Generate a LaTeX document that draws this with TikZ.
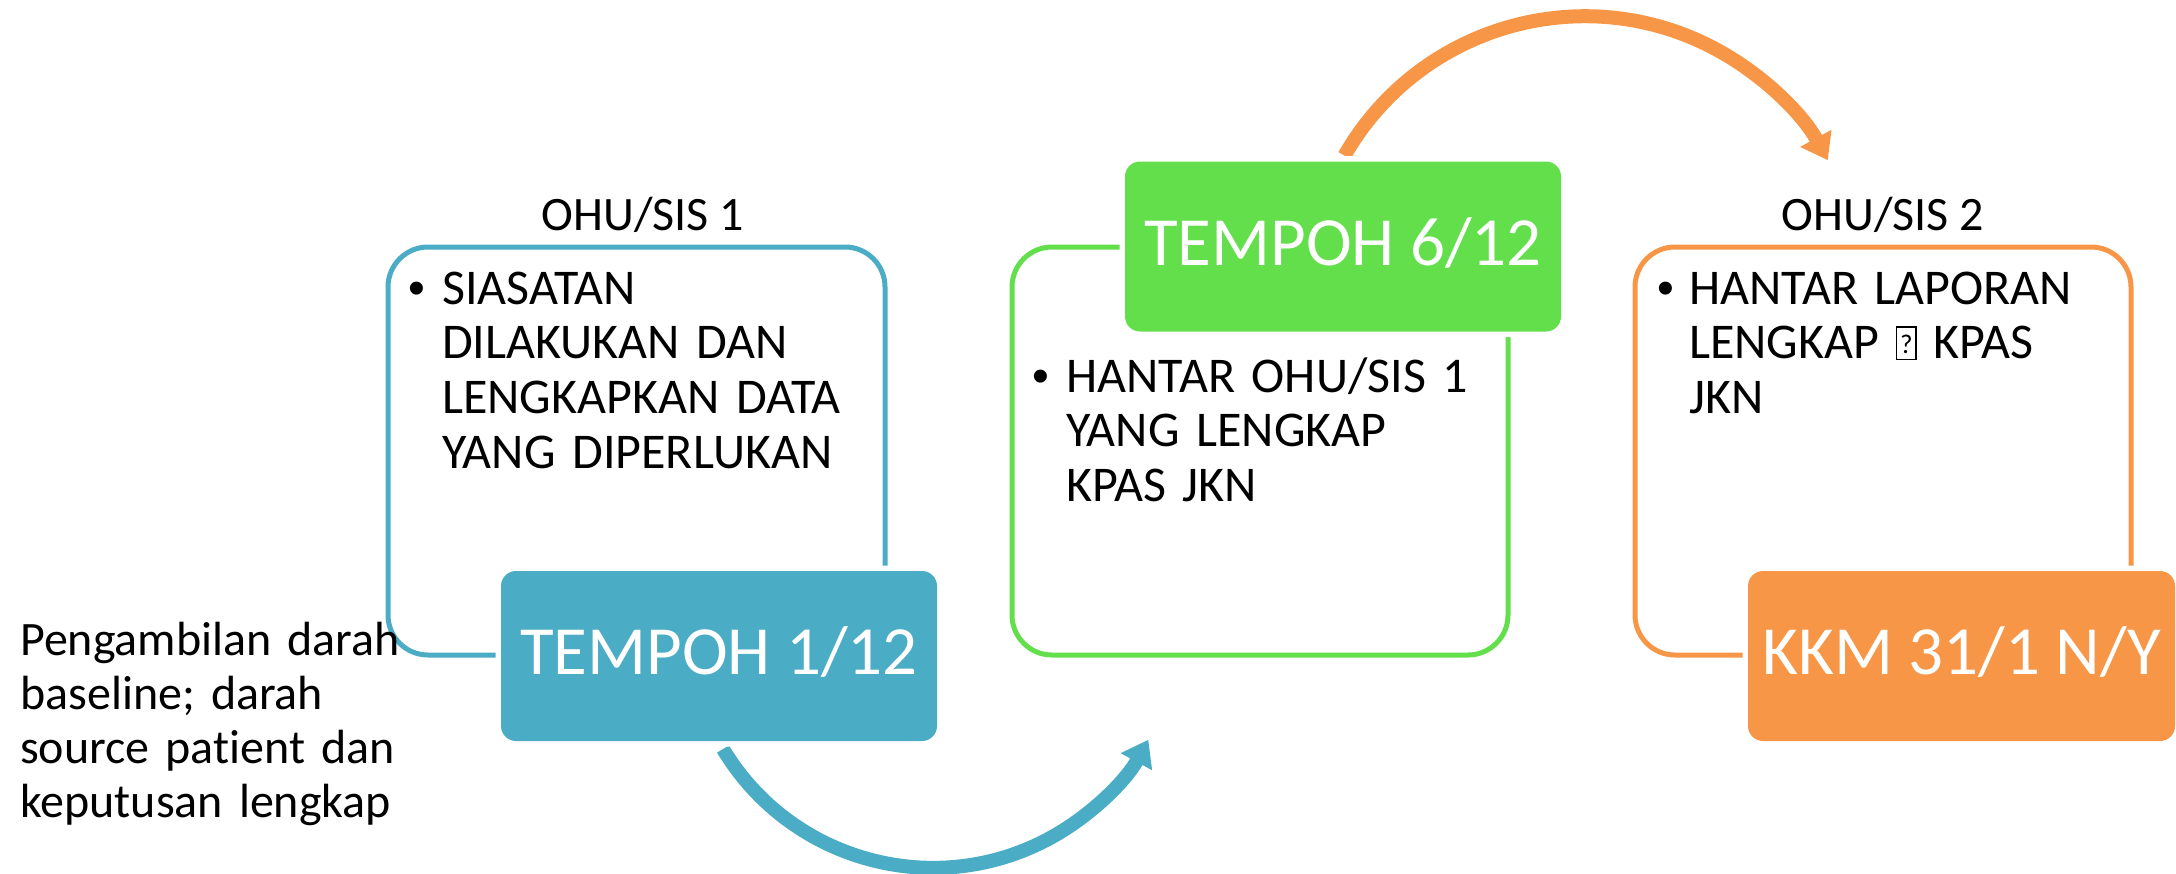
\documentclass[tikz,border=0pt]{standalone}
\usepackage{fontspec}
\setmainfont{Carlito}[Ligatures=NoCommon]
\newfontfamily\bulfont{Liberation Sans}
\usetikzlibrary{arrows.meta}
\definecolor{cblue}{HTML}{4BACC6}
\definecolor{cgreen}{HTML}{62DF4A}
\definecolor{corange}{HTML}{F79646}
\newcommand{\tofubox}{{\setlength{\fboxsep}{0pt}\setlength{\fboxrule}{1.6pt}\fbox{\makebox[18pt]{\rule{0pt}{31pt}\raisebox{5pt}{\fontsize{27}{27}\selectfont ?}}}}}
\begin{document}
\begin{tikzpicture}[x=1pt,y=-1pt,
  outlinebox/.style={draw=#1, line width=5pt, rounded corners=40pt, minimum width=497pt, minimum height=408pt, inner sep=0pt, outer sep=0pt},
  fillbox/.style={fill=#1, preaction={draw=white, line width=11pt}, rounded corners=15pt, minimum width=436pt, minimum height=170pt, inner sep=0pt, outer sep=0pt, text=white, font=\fontsize{69}{69}\selectfont, text height=44.5pt, text depth=7.5pt},
  txt/.style={anchor=base west, text width=440pt, align=left, inner sep=0pt, font=\fontsize{50}{54.7}\selectfont},
  bul/.style={anchor=base, inner sep=0pt, font=\bulfont\fontsize{48}{48}\selectfont},
  lbl/.style={anchor=base, inner sep=0pt, font=\fontsize{48}{48}\selectfont},
  arc arrow/.style={draw=#1, line width=14pt, -{Triangle[length=25pt,width=34pt]}}
]
\useasboundingbox (0,0) rectangle (2176,873);

% arrows
\coordinate (bstart) at (723,749);
\draw[arc arrow=cblue] (bstart) arc[start angle=149, end angle=28.5, radius=245];
\coordinate (ostart) at (1344.5,155.6);
\draw[arc arrow=corange] (ostart) arc[start angle=-150.2, end angle=-28.7, radius=277];

% outline boxes
\node[outlinebox=cblue] (box1) at (636.5,451) {};
\node[outlinebox=cgreen, minimum width=496pt] (box2) at (1260,451) {};
\node[outlinebox=corange, minimum width=496pt] (box3) at (1883,451) {};

% filled boxes
\node[fillbox=cblue] (t1) at (719,656) {TEMPOH 1/12};
\node[fillbox=cgreen] (t2) at (1343,246.5) {TEMPOH 6/12};
\node[fillbox=corange, minimum width=427pt] (t3) at (1961.5,656) {KKM 31/1 N/Y};

% labels
\node[lbl] (lab1) at (643,230) {OHU/SIS 1};
\node[lbl] (lab2) at (1883,230) {OHU/SIS 2};

% bullet texts
\node[bul] (b1) at (417,304) {•};
\node[txt, text width=430pt] (x1) at (442,304) {SIASATAN\\DILAKUKAN DAN\\LENGKAPKAN DATA\\YANG DIPERLUKAN};
\node[bul] (b2) at (1041,392) {•};
\node[txt, text width=430pt] (x2) at (1066,392) {HANTAR OHU/SIS 1\\YANG LENGKAP\\KPAS JKN};
\node[bul] (b3) at (1666,304) {•};
\node[txt, text width=430pt] (x3) at (1689,304) {HANTAR LAPORAN\\LENGKAP \tofubox{} KPAS\\JKN};

% left note
\node[txt, text width=420pt, font=\fontsize{48}{54}\selectfont] (note) at (20,655) {Pengambilan darah\\baseline; darah\\source patient dan\\keputusan lengkap};
\end{tikzpicture}
\end{document}
